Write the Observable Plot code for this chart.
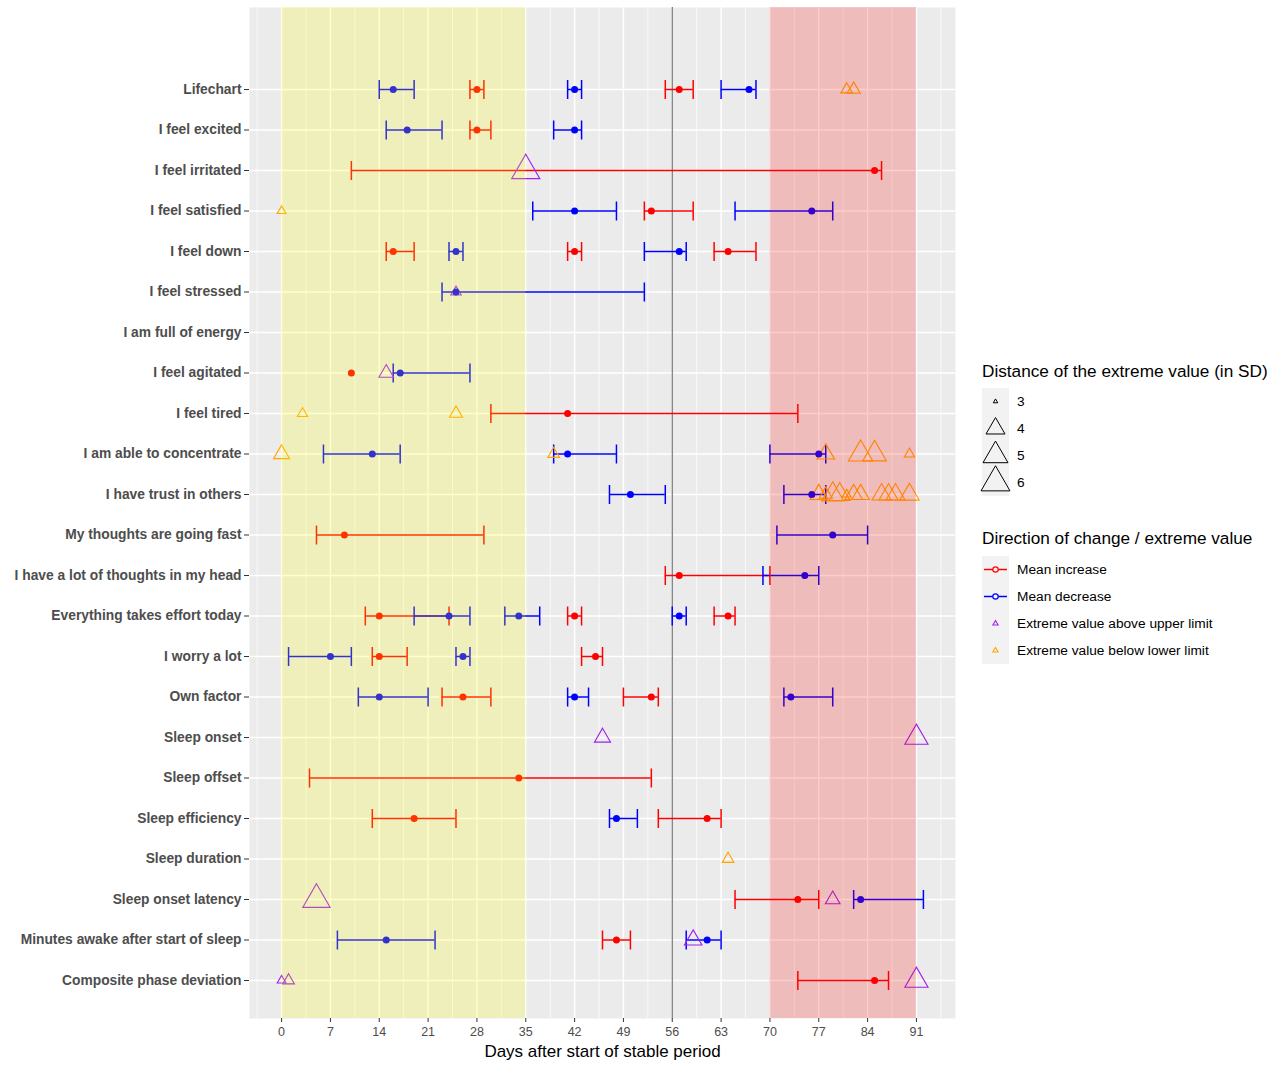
<!DOCTYPE html>
<html>
<head>
<meta charset="utf-8">
<script src="https://cdn.jsdelivr.net/npm/d3@7"></script>
<script src="https://cdn.jsdelivr.net/npm/@observablehq/plot@0.6"></script>
<style>
  body { margin: 0; background: #ffffff; }
  #wrap { position: relative; width: 1272px; height: 1065px; font-family: "Liberation Sans", Arial, Helvetica, sans-serif; }
  #chart { position: absolute; left: 0; top: 0; }
  #legend { position: absolute; left: 960px; top: 0; }
  g[aria-label="x-axis tick"], g[aria-label="y-axis tick"] { stroke: #333333; }
  g[aria-label="y-axis tick label"] { font-weight: bold; }
</style>
</head>
<body>
<div id="wrap">
  <div id="chart"></div>
  <div id="legend"></div>
</div>
<script>
// Items, top to bottom
const variables = [
  "Lifechart", "I feel excited", "I feel irritated", "I feel satisfied", "I feel down",
  "I feel stressed", "I am full of energy", "I feel agitated", "I feel tired",
  "I am able to concentrate", "I have trust in others", "My thoughts are going fast",
  "I have a lot of thoughts in my head", "Everything takes effort today", "I worry a lot",
  "Own factor", "Sleep onset", "Sleep offset", "Sleep efficiency", "Sleep duration",
  "Sleep onset latency", "Minutes awake after start of sleep", "Composite phase deviation"
];

// Change points: [item, lower bound, estimate, upper bound] (days)
const meanIncrease = [
  ["Lifechart", 27, 28, 29], ["Lifechart", 55, 57, 59],
  ["I feel excited", 27, 28, 30],
  ["I feel irritated", 10, 85, 86],
  ["I feel satisfied", 52, 53, 59],
  ["I feel down", 15, 16, 19], ["I feel down", 41, 42, 43], ["I feel down", 62, 64, 68],
  ["I feel agitated", null, 10, null],
  ["I feel tired", 30, 41, 74],
  ["My thoughts are going fast", 5, 9, 29],
  ["I have a lot of thoughts in my head", 55, 57, 70],
  ["Everything takes effort today", 12, 14, 24], ["Everything takes effort today", 41, 42, 43],
  ["Everything takes effort today", 62, 64, 65],
  ["I worry a lot", 13, 14, 18], ["I worry a lot", 43, 45, 46],
  ["Own factor", 23, 26, 30], ["Own factor", 49, 53, 54],
  ["Sleep offset", 4, 34, 53],
  ["Sleep efficiency", 13, 19, 25], ["Sleep efficiency", 54, 61, 63],
  ["Sleep onset latency", 65, 74, 77],
  ["Minutes awake after start of sleep", 46, 48, 50],
  ["Composite phase deviation", 74, 85, 87]
];

const meanDecrease = [
  ["Lifechart", 14, 16, 19], ["Lifechart", 41, 42, 43], ["Lifechart", 63, 67, 68],
  ["I feel excited", 15, 18, 23], ["I feel excited", 39, 42, 43],
  ["I feel satisfied", 36, 42, 48], ["I feel satisfied", 65, 76, 79],
  ["I feel down", 24, 25, 26], ["I feel down", 52, 57, 58],
  ["I feel stressed", 23, 25, 52],
  ["I feel agitated", 16, 17, 27],
  ["I am able to concentrate", 6, 13, 17], ["I am able to concentrate", 39, 41, 48],
  ["I am able to concentrate", 70, 77, 78],
  ["I have trust in others", 47, 50, 55], ["I have trust in others", 72, 76, 78],
  ["My thoughts are going fast", 71, 79, 84],
  ["I have a lot of thoughts in my head", 69, 75, 77],
  ["Everything takes effort today", 19, 24, 27], ["Everything takes effort today", 32, 34, 37],
  ["Everything takes effort today", 56, 57, 58],
  ["I worry a lot", 1, 7, 10], ["I worry a lot", 25, 26, 27],
  ["Own factor", 11, 14, 21], ["Own factor", 41, 42, 44], ["Own factor", 72, 73, 79],
  ["Sleep efficiency", 47, 48, 51],
  ["Sleep onset latency", 82, 83, 92],
  ["Minutes awake after start of sleep", 8, 15, 22], ["Minutes awake after start of sleep", 58, 61, 63]
];

// Extreme values: [item, day, distance in SD]
const aboveUpper = [
  ["I feel irritated", 35, 5.8],
  ["I feel stressed", 25, 3.4],
  ["I feel agitated", 15, 3.7],
  ["Sleep onset", 46, 3.8], ["Sleep onset", 91, 4.7],
  ["Sleep onset latency", 5, 5.6], ["Sleep onset latency", 79, 3.7],
  ["Minutes awake after start of sleep", 59, 3.9],
  ["Composite phase deviation", 0, 3.3], ["Composite phase deviation", 1, 3.5],
  ["Composite phase deviation", 91, 4.7]
];

const belowLower = [
  ["Lifechart", 81, 3.5], ["Lifechart", 82, 3.6],
  ["I feel satisfied", 0, 3.3],
  ["I feel tired", 3, 3.4], ["I feel tired", 25, 3.6],
  ["I am able to concentrate", 0, 3.8], ["I am able to concentrate", 39, 3.5],
  ["I am able to concentrate", 78, 3.9], ["I am able to concentrate", 83, 4.9],
  ["I am able to concentrate", 85, 4.8], ["I am able to concentrate", 90, 3.4],
  ["I have trust in others", 77, 3.9], ["I have trust in others", 78, 3.6],
  ["I have trust in others", 79, 4.5], ["I have trust in others", 80, 4.3],
  ["I have trust in others", 81, 3.3], ["I have trust in others", 82, 3.9],
  ["I have trust in others", 83, 3.9], ["I have trust in others", 86, 4.0],
  ["I have trust in others", 87, 4.0], ["I have trust in others", 88, 4.0],
  ["I have trust in others", 90, 4.1],
  ["Sleep duration", 64, 3.5]
];

// Study phases and reference day
const phaseStart = [0, 70];
const phaseEnd = [35, 91];
const referenceDay = 56;
const dayTicks = d3.range(0, 92, 7);
const minorDays = d3.range(-3.5, 95, 7);
const sizeBreaks = [3, 4, 5, 6];

const directions = ["Mean increase", "Mean decrease", "Extreme value above upper limit", "Extreme value below lower limit"];
const directionColors = ["#FF0000", "#0000FF", "#A020F0", "#FFA500"];
const phaseColors = ["#FFFF00", "#FF0000"];
const font = '"Liberation Sans", Arial, Helvetica, sans-serif';

// Tidy tables
const changes = [
  ...meanIncrease.map(([variable, low, mean, high]) => ({variable, low, mean, high, direction: directions[0]})),
  ...meanDecrease.map(([variable, low, mean, high]) => ({variable, low, mean, high, direction: directions[1]}))
];
const intervals = changes.filter((d) => d.low != null);
const caps = intervals.flatMap((d) => [{...d, day: d.low}, {...d, day: d.high}]);
const extremes = [
  ...aboveUpper.map(([variable, day, sd]) => ({variable, day, sd, direction: directions[2]})),
  ...belowLower.map(([variable, day, sd]) => ({variable, day, sd, direction: directions[3]}))
];
const phases = phaseStart.map((start, i) => ({start, end: phaseEnd[i], fill: phaseColors[i]}));

// Open triangle whose half-width equals the dot radius
const triangle = {
  draw(ctx, size) {
    const r = Math.sqrt(size / Math.PI);
    const h = r * Math.sqrt(3);
    ctx.moveTo(0, -2 * h / 3);
    ctx.lineTo(r, h / 3);
    ctx.lineTo(-r, h / 3);
    ctx.closePath();
  }
};
// Vertical whisker end
const cap = {
  draw(ctx) {
    ctx.moveTo(0, -9.5);
    ctx.lineTo(0, 9.5);
  }
};

const sizeRange = [2.25, 9.5, 12.5, 14.5];

const chart = Plot.plot({
  width: 960,
  height: 1065,
  marginLeft: 249,
  marginRight: 5,
  marginTop: 7,
  marginBottom: 47,
  style: {fontFamily: font, background: "transparent", overflow: "visible"},
  x: {domain: [-4.6, 96.6]},
  y: {type: "point", domain: variables, range: [89, 980], padding: 0, round: false},
  r: {type: "linear", domain: sizeBreaks, range: sizeRange},
  color: {domain: directions, range: directionColors},
  marks: [
    Plot.frame({fill: "#EBEBEB"}),
    Plot.gridX(minorDays, {stroke: "white", strokeOpacity: 1, strokeWidth: 0.7}),
    Plot.gridX(dayTicks, {stroke: "white", strokeOpacity: 1, strokeWidth: 1.4}),
    Plot.gridY({stroke: "white", strokeOpacity: 1, strokeWidth: 1.4}),
    Plot.ruleX([referenceDay], {stroke: "#4D4D4D", strokeWidth: 0.9}),
    Plot.ruleY(intervals, {x1: "low", x2: "high", y: "variable", stroke: "direction", strokeWidth: 1.5}),
    Plot.dot(caps, {x: "day", y: "variable", stroke: "direction", symbol: cap, fill: "none", r: 1, strokeWidth: 1.5}),
    Plot.dot(extremes, {x: "day", y: "variable", r: "sd", stroke: "direction", symbol: triangle, fill: "none", strokeWidth: 1.1}),
    Plot.dot(changes, {x: "mean", y: "variable", fill: "direction", r: 3.5, stroke: null}),
    ...phases.map((p) => Plot.rect([p], {x1: "start", x2: "end", fill: p.fill, fillOpacity: 0.2})),
    Plot.axisX(dayTicks, {tickSize: 4, tickPadding: 5, fontSize: 12.5, color: "#4D4D4D", label: null}),
    Plot.axisY({tickSize: 5, tickPadding: 3, fontSize: 13.8, fontWeight: "bold", color: "#4D4D4D", label: null}),
    Plot.text(["Days after start of stable period"], {frameAnchor: "bottom", dy: 38.5, fontSize: 17, fill: "black"})
  ]
});
document.getElementById("chart").appendChild(chart);

// Legends
const half = d3.scaleLinear(sizeBreaks, sizeRange);
function triPath(cx, cy, r) {
  const h = r * Math.sqrt(3);
  return `M${cx},${cy - 2 * h / 3}L${cx + r},${cy + h / 3}L${cx - r},${cy + h / 3}Z`;
}
let s = `<svg xmlns="http://www.w3.org/2000/svg" width="312" height="1065" font-family='${font}'>`;
s += `<text x="22" y="377" font-size="17.2" fill="black">Distance of the extreme value (in SD)</text>`;
s += `<rect x="22" y="388" width="27" height="108" fill="#F2F2F2"/>`;
sizeBreaks.forEach((v, i) => {
  const cy = 401.5 + 27 * i;
  s += `<path d="${triPath(35.5, cy, half(v))}" fill="none" stroke="black" stroke-width="1"/>`;
  s += `<text x="57" y="${cy}" dy="0.35em" font-size="13.7" fill="black">${v}</text>`;
});
s += `<text x="22" y="544" font-size="17.2" fill="black">Direction of change / extreme value</text>`;
s += `<rect x="22" y="556" width="27" height="108" fill="#F2F2F2"/>`;
directions.forEach((label, i) => {
  const cy = 569.5 + 27 * i;
  const c = directionColors[i];
  if (i < 2) {
    s += `<line x1="24" x2="47" y1="${cy}" y2="${cy}" stroke="${c}" stroke-width="1.5"/>`;
    s += `<circle cx="35.5" cy="${cy}" r="2.7" fill="#F2F2F2" stroke="${c}" stroke-width="1.2"/>`;
  } else {
    s += `<path d="${triPath(35.5, cy, 2.6)}" fill="none" stroke="${c}" stroke-width="1.1"/>`;
  }
  s += `<text x="57" y="${cy}" dy="0.35em" font-size="13.7" fill="black">${label}</text>`;
});
s += `</svg>`;
document.getElementById("legend").innerHTML = s;
</script>
</body>
</html>
